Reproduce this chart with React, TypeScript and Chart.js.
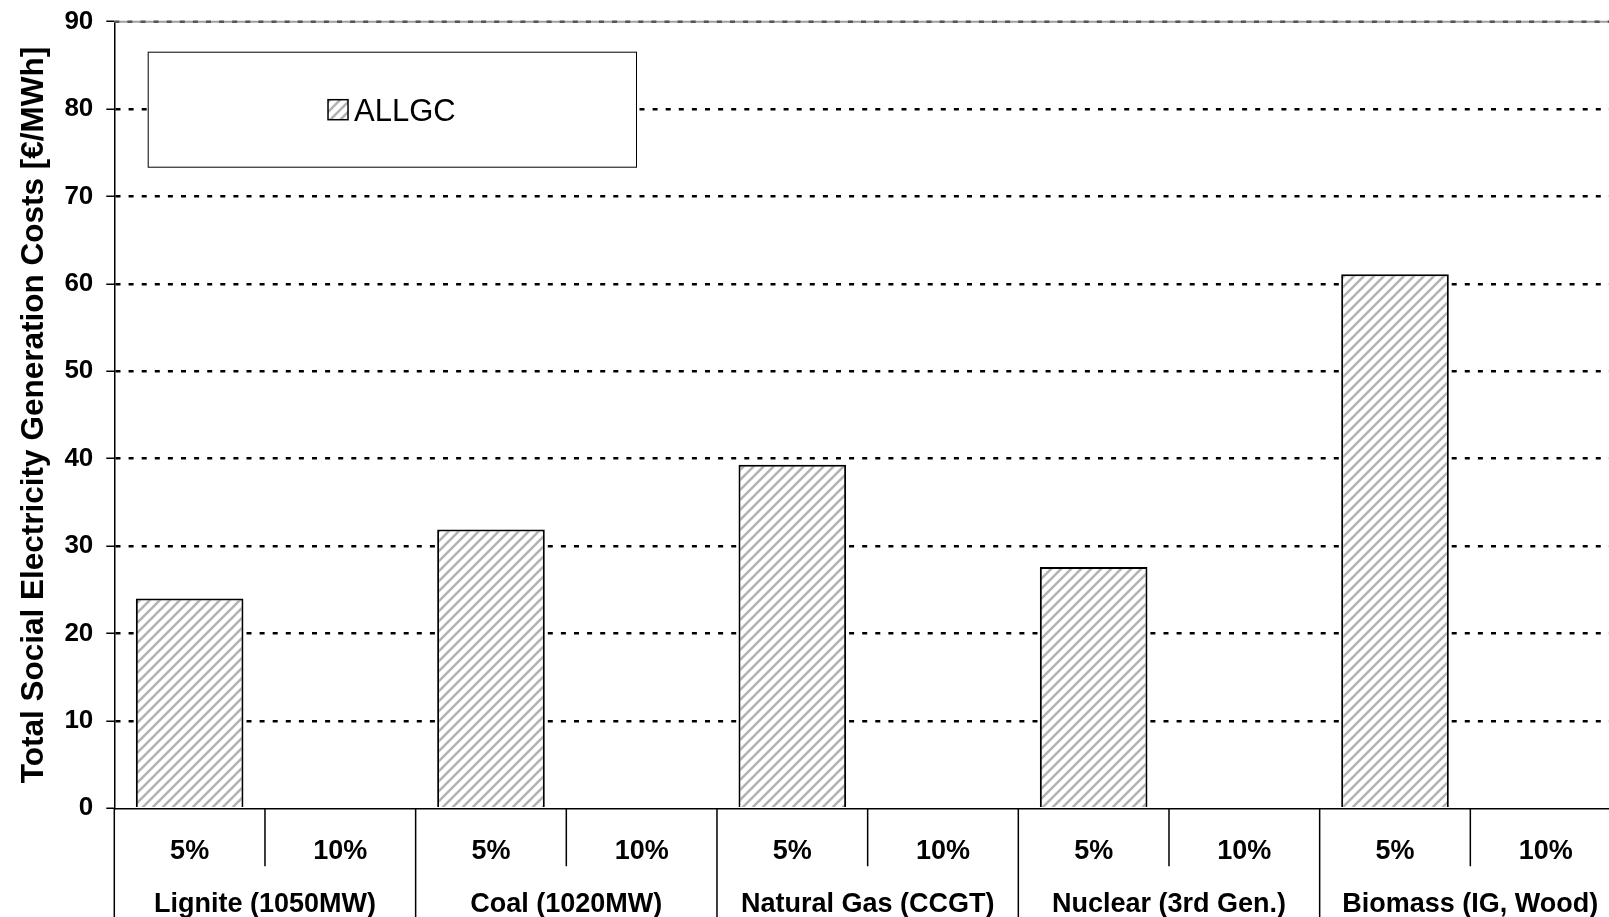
import React, { useEffect, useRef } from "react";
import { Chart, registerables } from "chart.js";

Chart.register(...registerables);

// ---- data ----
const groups = [
  "Lignite (1050MW)",
  "Coal (1020MW)",
  "Natural Gas (CCGT)",
  "Nuclear (3rd Gen.)",
  "Biomass (IG, Wood)",
];
const discountRates = ["5%", "10%"];
const allgc5: (number | null)[] = [24.0, 31.9, 39.3, 27.6, 61.1];
const allgc10: (number | null)[] = [null, null, null, null, null];
const seriesLabel = "ALLGC";
const yMin = 0;
const yMax = 90;
const yStep = 10;
const yTitle = "Total Social Electricity Generation Costs [€/MWh]";

const FONT = "'Liberation Sans', Arial, Helvetica, sans-serif";

function makeHatch(): CanvasPattern | string {
  const s = 10;
  const c = document.createElement("canvas");
  c.width = s;
  c.height = s;
  const g = c.getContext("2d");
  if (!g) return "#ccc";
  g.fillStyle = "#ffffff";
  g.fillRect(0, 0, s, s);
  g.strokeStyle = "#b3b3b3";
  g.lineWidth = 2.6;
  g.lineCap = "square";
  g.beginPath();
  g.moveTo(-2, 2);
  g.lineTo(2, -2);
  g.moveTo(-1, s + 1);
  g.lineTo(s + 1, -1);
  g.moveTo(s - 2, s + 2);
  g.lineTo(s + 2, s - 2);
  g.stroke();
  const p = g.createPattern(c, "repeat");
  return p || "#ccc";
}

export default function App() {
  const ref = useRef<HTMLCanvasElement | null>(null);

  useEffect(() => {
    const canvas = ref.current;
    if (!canvas) return;
    const hatch = makeHatch();

    const labels: string[] = groups.flatMap(() => discountRates.slice());
    const values: (number | null)[] = groups.flatMap((_, i) => [allgc5[i], allgc10[i]]);

    const decorPlugin = {
      id: "decor",
      afterDraw(chart: any) {
        const ctx: CanvasRenderingContext2D = chart.ctx;
        const ca = chart.chartArea;
        const xs = chart.scales.x;
        const H = chart.height;
        ctx.save();

        // top border line (at 90)
        const yTop = chart.scales.y.getPixelForValue(yMax);
        ctx.strokeStyle = "#a0a0a0";
        ctx.lineWidth = 2;
        ctx.beginPath();
        ctx.moveTo(ca.left, yTop);
        ctx.lineTo(ca.right, yTop);
        ctx.stroke();
        ctx.strokeStyle = "#555555";
        ctx.lineWidth = 2.5;
        ctx.setLineDash([5, 8.1]);
        ctx.beginPath();
        ctx.moveTo(ca.left, yTop);
        ctx.lineTo(ca.right, yTop);
        ctx.stroke();
        ctx.setLineDash([]);

        // category dividers below axis
        ctx.strokeStyle = "#000";
        ctx.lineWidth = 1.5;
        const n = labels.length;
        ctx.beginPath();
        ctx.moveTo(ca.left, ca.bottom);
        ctx.lineTo(ca.left, H);
        for (let i = 0; i < n - 1; i++) {
          const px = (xs.getPixelForValue(i) + xs.getPixelForValue(i + 1)) / 2;
          const isGroup = (i + 1) % discountRates.length === 0;
          ctx.moveTo(px, ca.bottom);
          ctx.lineTo(px, isGroup ? H : ca.bottom + 58);
        }
        ctx.stroke();

        // labels
        ctx.fillStyle = "#000";
        ctx.textAlign = "center";
        ctx.textBaseline = "alphabetic";
        ctx.font = `bold 27px ${FONT}`;
        for (let i = 0; i < n; i++) {
          ctx.fillText(labels[i], xs.getPixelForValue(i), ca.bottom + 51);
        }
        ctx.font = `bold 27px ${FONT}`;
        groups.forEach((g, gi) => {
          const a = xs.getPixelForValue(gi * 2);
          const b = xs.getPixelForValue(gi * 2 + 1);
          ctx.fillText(g, (a + b) / 2, ca.bottom + 104);
        });

        // legend box
        const lx = ca.left + 33.4;
        const ly = ca.top + 30;
        const lw = 488.3;
        const lh = 115;
        ctx.fillStyle = "#fff";
        ctx.fillRect(lx, ly, lw, lh);
        ctx.strokeStyle = "#000";
        ctx.lineWidth = 1;
        ctx.strokeRect(lx + 0.5, ly + 0.5, lw, lh);
        const label = chart.data.datasets[0].label as string;
        ctx.font = `31px ${FONT}`;
        const tw = ctx.measureText(label).width;
        const sw = 20;
        const gap = 6;
        const total = sw + gap + tw;
        const sx = lx + lw / 2 - total / 2;
        const sy = ly + 48;
        ctx.fillStyle = hatch as any;
        ctx.fillRect(sx, sy, sw, sw);
        ctx.strokeStyle = "#000";
        ctx.lineWidth = 1.5;
        ctx.strokeRect(sx, sy, sw, sw);
        ctx.fillStyle = "#000";
        ctx.textAlign = "left";
        ctx.fillText(label, sx + sw + gap, ly + 69);

        ctx.restore();
      },
    };

    const chart = new Chart(canvas, {
      type: "bar",
      data: {
        labels,
        datasets: [
          {
            label: seriesLabel,
            data: values,
            backgroundColor: hatch as any,
            borderColor: "#000",
            borderWidth: 2,
            categoryPercentage: 1,
            barPercentage: 1 / 1.4,
          },
        ],
      },
      options: {
        responsive: false,
        animation: false,
        devicePixelRatio: 1,
        layout: { padding: { top: 21.7, right: 4, left: 0, bottom: 0 } },
        plugins: {
          legend: { display: false },
          tooltip: { enabled: false },
        },
        scales: {
          x: {
            type: "category",
            offset: true,
            grid: { display: false },
            border: { display: true, color: "#000", width: 1.5 },
            ticks: { display: false },
            afterFit: (s: any) => {
              s.height = 108.7;
              s.paddingLeft = 0;
              s.paddingRight = 0;
            },
          },
          y: {
            min: yMin,
            max: yMax,
            ticks: {
              stepSize: yStep,
              color: "#000",
              padding: 13,
              font: { family: FONT, size: 26, weight: "bold" },
            },
            grid: {
              color: (c: any) =>
                c.tick && (c.tick.value === yMin || c.tick.value === yMax)
                  ? "rgba(0,0,0,0)"
                  : "#000",
              lineWidth: 2.5,
              tickColor: "#000",
              tickWidth: 1.5,
              tickLength: 8,
              tickBorderDash: [],
            },
            border: { display: true, color: "#000", width: 1.5, dash: [5, 8.1] },
            title: {
              display: true,
              text: yTitle,
              color: "#000",
              font: { family: FONT, size: 31.5, weight: "bold" },
              padding: { top: 15, bottom: 0 },
            },
            afterFit: (s: any) => {
              s.width = 114.3;
              s.paddingTop = 0;
              s.paddingBottom = 0;
            },
          },
        },
      },
      plugins: [decorPlugin],
    } as any);

    return () => {
      chart.destroy();
    };
  }, []);

  return (
    <div
      style={{
        position: "absolute",
        left: 0,
        top: 0,
        width: 1609,
        height: 917,
        overflow: "hidden",
        background: "#fff",
      }}
    >
      <canvas ref={ref} width={1625} height={917} style={{ display: "block" }} />
    </div>
  );
}
